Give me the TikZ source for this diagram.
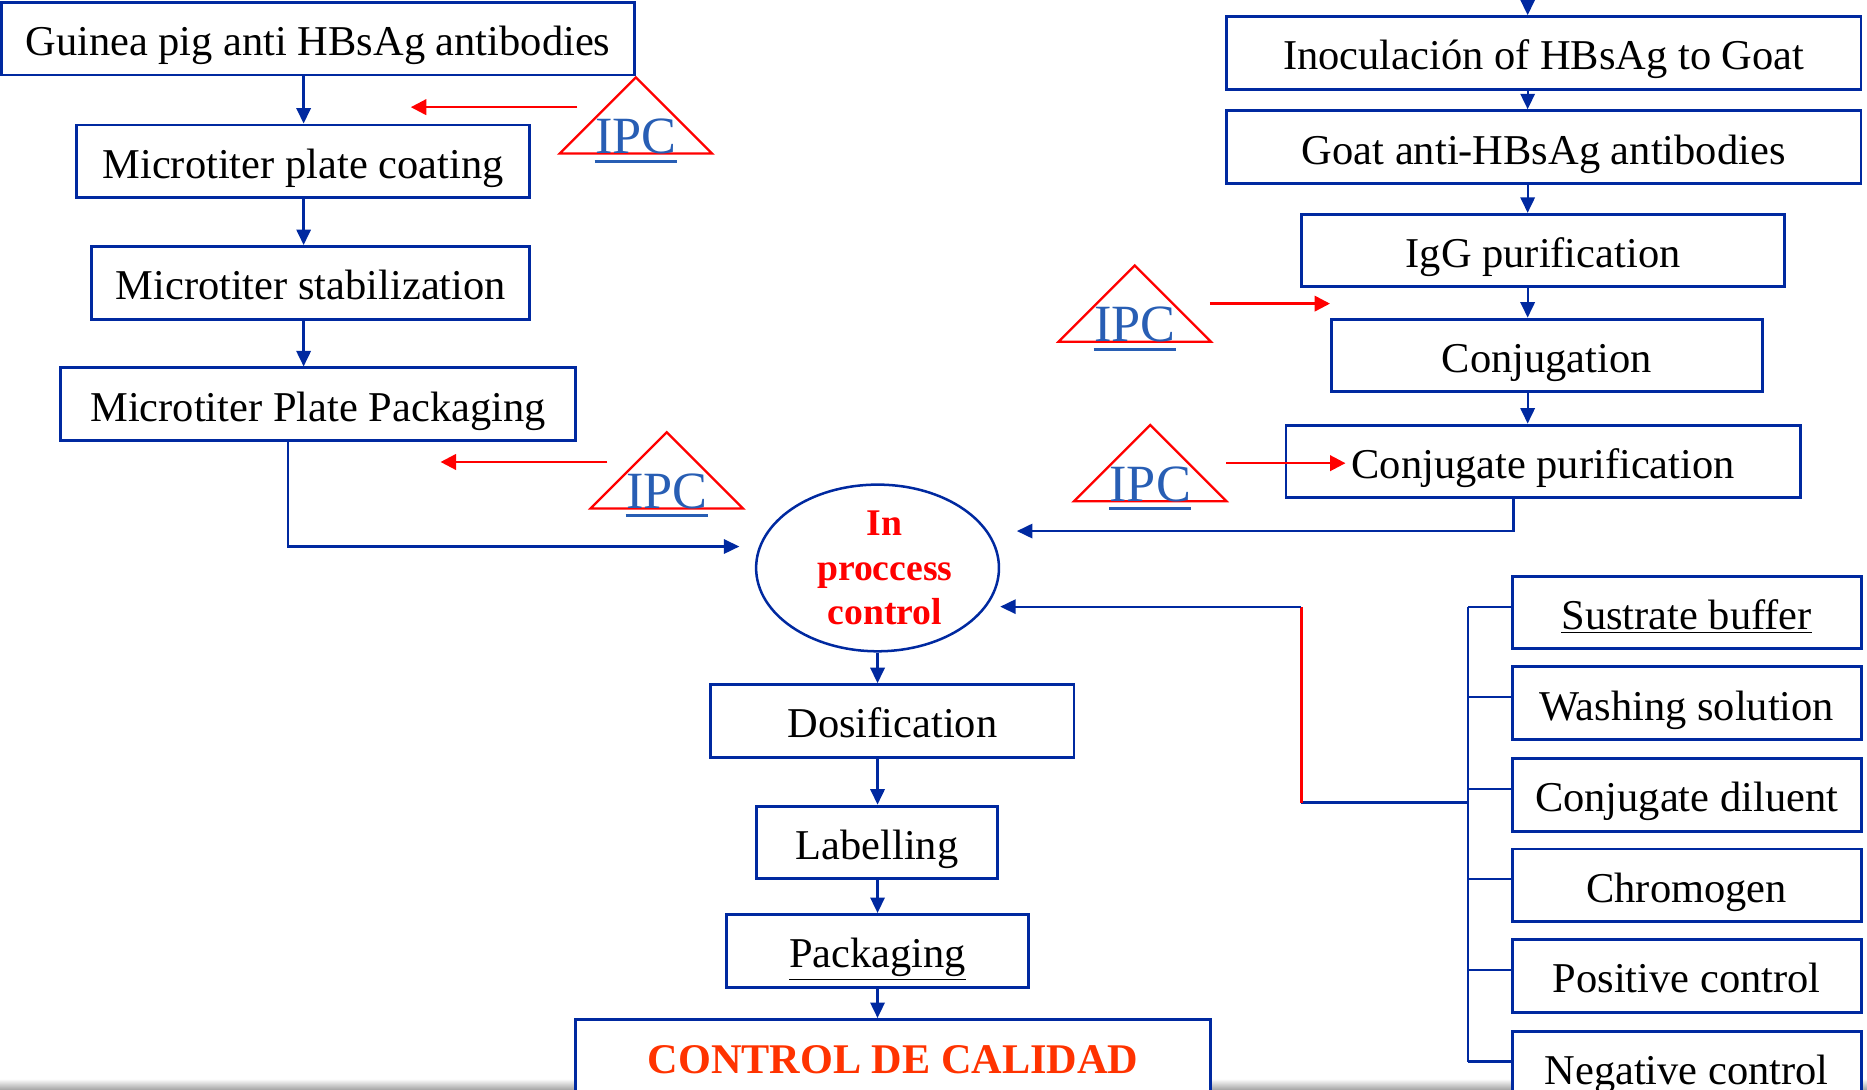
\documentclass[tikz,border=0pt]{standalone}
\usepackage{fontspec}
\setmainfont{Liberation Serif}
\usetikzlibrary{shapes.geometric, arrows.meta, positioning, calc}

\definecolor{flowblue}{RGB}{0,41,160}
\definecolor{ipcblue}{RGB}{40,94,180}
\definecolor{calidad}{RGB}{255,51,0}

\tikzset{
  % --- Cajas del flujo ---------------------------------------
  pbox/.style={draw=flowblue, line width=1.4pt, fill=white,
    minimum height=1.22cm, inner sep=0pt, align=center,
    text height=0.62cm, text depth=0.05cm,
    font=\fontsize{20.3}{24}\selectfont},
  subbox/.style={pbox, minimum width=5.86cm},
  ctrl/.style={draw=flowblue, line width=1.2pt, ellipse, fill=white,
    minimum width=4.08cm, minimum height=2.8cm, inner sep=0pt,
    align=center, text=red, font=\fontsize{18}{21.3}\selectfont\bfseries},
  % --- Marcas IPC --------------------------------------------
  ipctri/.style={draw=red, line width=1.1pt},
  ipctxt/.style={text=ipcblue, anchor=base, inner sep=0pt,
    font=\fontsize{25}{28}\selectfont},
  ipcul/.style={draw=ipcblue, line width=1.5pt},
  % --- Conectores --------------------------------------------
  fl/.style={draw=flowblue, line width=1.1pt,
    -{Triangle[length=0.26cm, width=0.24cm]}},
  fline/.style={draw=flowblue, line width=1.1pt},
  rline/.style={draw=red, line width=1.1pt},
  rfl/.style={draw=red, line width=1.2pt,
    -{Triangle[length=0.26cm, width=0.26cm]}}
}

\begin{document}
\begin{tikzpicture}[x=0.02cm, y=-0.02cm]

  \clip (0,0) rectangle (1568,915);
  \shade[top color=white, bottom color=gray!70] (0,906) rectangle (1568,915);

  % --- Columna izquierda: placa ------------------------------
  \node[pbox, minimum width=10.64cm] (guinea) at (267,32.5) {Guinea pig anti HBsAg antibodies};
  \node[pbox, minimum width=7.62cm] (coat) at (254.5,135.5) {Microtiter plate coating};
  \node[pbox, minimum width=7.36cm] (stab) at (261,237.5) {Microtiter stabilization};
  \node[pbox, minimum width=8.64cm] (mpack) at (267,339.5) {Microtiter Plate Packaging};
  \coordinate (lcol) at (255,0);

  % --- Columna derecha: conjugado ----------------------------
  \node[pbox, minimum width=10.66cm] (inoc) at (1296.5,44.5) {Inoculación of HBsAg to Goat};
  \node[pbox, minimum width=10.66cm] (goat) at (1296.5,123.5) {Goat anti-HBsAg antibodies};
  \node[pbox, minimum width=8.12cm] (igg) at (1296,210.5) {IgG purification};
  \node[pbox, minimum width=7.24cm] (conj) at (1299,298.5) {Conjugation};
  \node[pbox, minimum width=8.64cm] (cpur) at (1296,387.5) {Conjugate purification};
  \coordinate (rtop) at (1283,0);

  % --- Centro: control en proceso ----------------------------
  \node[ctrl] (ipc) at (737,477) {\hspace*{0.24cm}In\\\hspace*{0.24cm}proccess\\\hspace*{0.24cm}control};
  \node[pbox, minimum width=6.1cm] (dos) at (749.5,605.5) {Dosification};
  \node[pbox, minimum width=4.06cm] (lab) at (736.5,707.5) {Labelling};
  \node[pbox, minimum width=5.08cm] (pack) at (737,798.5) {\underline{Packaging}};
  \node[pbox, minimum width=10.68cm, minimum height=1.6cm, anchor=north,
    text height=0.9cm, text depth=0.7cm,
    text=calidad, font=\fontsize{20.2}{24}\selectfont\bfseries] (qc) at (750,855)
    {CONTROL DE CALIDAD};

  % --- Reactivos ---------------------------------------------
  \node[subbox] (sb) at (1416.5,514.5) {\underline{Sustrate buffer}};
  \node[subbox] (ws) at (1416.5,590.5) {Washing solution};
  \node[subbox] (cd) at (1416.5,667.5) {Conjugate diluent};
  \node[subbox] (ch) at (1416.5,743.5) {Chromogen};
  \node[subbox] (pc) at (1416.5,819.5) {Positive control};
  \node[subbox] (nc) at (1416.5,896.5) {Negative control};

  % --- Marcas IPC --------------------------------------------
  \foreach \n/\bx/\by in {A/534/129, B/560/427, C/953/287, D/966/421} {
    \draw[ipctri] (\bx-64,\by) -- (\bx,\by-64) -- (\bx+64,\by) -- cycle;
    \node[ipctxt] (ipc\n) at (\bx,\by) {IPC};
    \draw[ipcul] ([yshift=-0.11cm]ipc\n.south west) -- ([yshift=-0.11cm]ipc\n.south east);
  }
  \coordinate (rAs) at (485,90);   \coordinate (rAe) at (345,90);
  \coordinate (rBs) at (510,388);  \coordinate (rBe) at (370,388);
  \coordinate (rCs) at (1016,255); \coordinate (rCe) at (1117,255);
  \coordinate (rDs) at (1030,389); \coordinate (rDe) at (1130,389);
  \foreach \n in {A,B,C,D}
    \draw[rfl] (r\n s) -- (r\n e);

  % --- Flujo izquierdo ---------------------------------------
  \draw[fl] (guinea.south -| lcol) -- (coat.north -| lcol);
  \draw[fl] (coat.south -| lcol) -- (stab.north -| lcol);
  \draw[fl] (stab.south -| lcol) -- (mpack.north -| lcol);
  \draw[fl, shorten >=0.26cm] ([xshift=-0.5cm]mpack.south) |- ([yshift=0.36cm]ipc.west);

  % --- Flujo derecho -----------------------------------------
  \draw[fl] (rtop) -- (inoc.north -| rtop);
  \draw[fl] (inoc.south -| rtop) -- (goat.north -| rtop);
  \draw[fl] (goat.south -| rtop) -- (igg.north -| rtop);
  \draw[fl] (igg.south -| rtop) -- (conj.north -| rtop);
  \draw[fl] (conj.south -| rtop) -- (cpur.north -| rtop);
  \draw[fl, shorten >=0.28cm] ([xshift=-0.5cm]cpur.south) |- ([yshift=0.62cm]ipc.east);

  % --- Flujo central -----------------------------------------
  \draw[fl] (ipc.south) -- (dos.north -| ipc.south);
  \draw[fl] (dos.south -| ipc.south) -- (lab.north -| ipc.south);
  \draw[fl] (lab.south -| ipc.south) -- (pack.north -| ipc.south);
  \draw[fl] (pack.south -| ipc.south) -- (qc.north -| ipc.south);

  % --- Reactivos al control ----------------------------------
  \coordinate (bus) at (1233,0);
  \coordinate (rk) at (1093,674);
  \foreach \s in {sb,ws,cd,ch,pc,nc} {
    \path ([yshift=0.1cm]\s.west) coordinate (t\s);
    \draw[fline] (t\s) -- (t\s -| bus);
  }
  \draw[fline] (tsb -| bus) -- (tnc -| bus);
  \draw[fline] (rk -| bus) -- (rk);
  \draw[rline] (rk) -- (tsb -| rk);
  \draw[fl] (tsb -| rk) -- (tsb -| ipc.east);

\end{tikzpicture}
\end{document}
